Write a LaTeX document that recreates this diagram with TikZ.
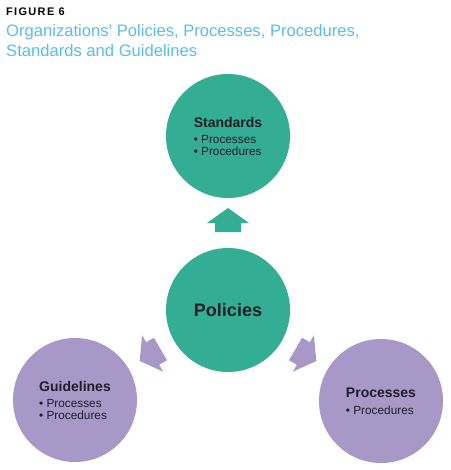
\documentclass[tikz,border=0pt]{standalone}
\usepackage{fontspec}
\setmainfont{Liberation Sans}
\newfontfamily\figfont[LetterSpace=12]{Liberation Sans}
\definecolor{stdteal}{HTML}{33AE94}
\definecolor{guidepurple}{HTML}{A898C8}
\definecolor{titleblue}{HTML}{5CBDE6}
\definecolor{darktext}{HTML}{1E1E28}

\begin{document}
\begin{tikzpicture}[x=1pt, y=-1pt,
    bubble/.style={circle, minimum size=124pt, inner sep=0pt, align=left,
        text=darktext, font=\fontsize{11.8}{11.5}\selectfont},
    headline/.style={anchor=base west, inner sep=0pt, text=titleblue,
        font=\fontsize{16.6}{20}\selectfont}]
    \useasboundingbox (0,0) rectangle (450,470);
    % heading
    \node[anchor=base west, inner sep=0pt, font=\figfont\bfseries\fontsize{11}{12}\selectfont] (fig) at (6,15.5) {FIGURE 6};
    \node[headline] (ttl1) at (6,37) {Organizations’ Policies, Processes, Procedures,};
    \node[headline] (ttl2) at (6,57) {Standards and Guidelines};
    % circles
    \node[bubble, fill=stdteal] (pol) at (228,310) {\bfseries\fontsize{18}{20}\selectfont Policies};
    \node[bubble, fill=stdteal] (std) at (228,136)
        {{\bfseries\fontsize{14}{16}\selectfont Standards}\\[5pt] • Processes\\ • Procedures};
    \node[bubble, fill=guidepurple] (gdl) at (75,400)
        {{\bfseries\fontsize{14}{16}\selectfont Guidelines}\\[5pt] • Processes\\ • Procedures};
    \node[bubble, fill=guidepurple] (prc) at (381,401)
        {{\bfseries\fontsize{14}{16}\selectfont Processes}\\[5pt] • Procedures};
    % block arrows
    \foreach \ang/\col in {90/stdteal, 210/guidepurple, 330/guidepurple}
        \fill[\col, shift={(pol.center)}, rotate=\ang]
            (78,-13) -- (87,-13) -- (87,-21) -- (102,0) -- (87,21) -- (87,13) -- (78,13) -- cycle;
\end{tikzpicture}
\end{document}
